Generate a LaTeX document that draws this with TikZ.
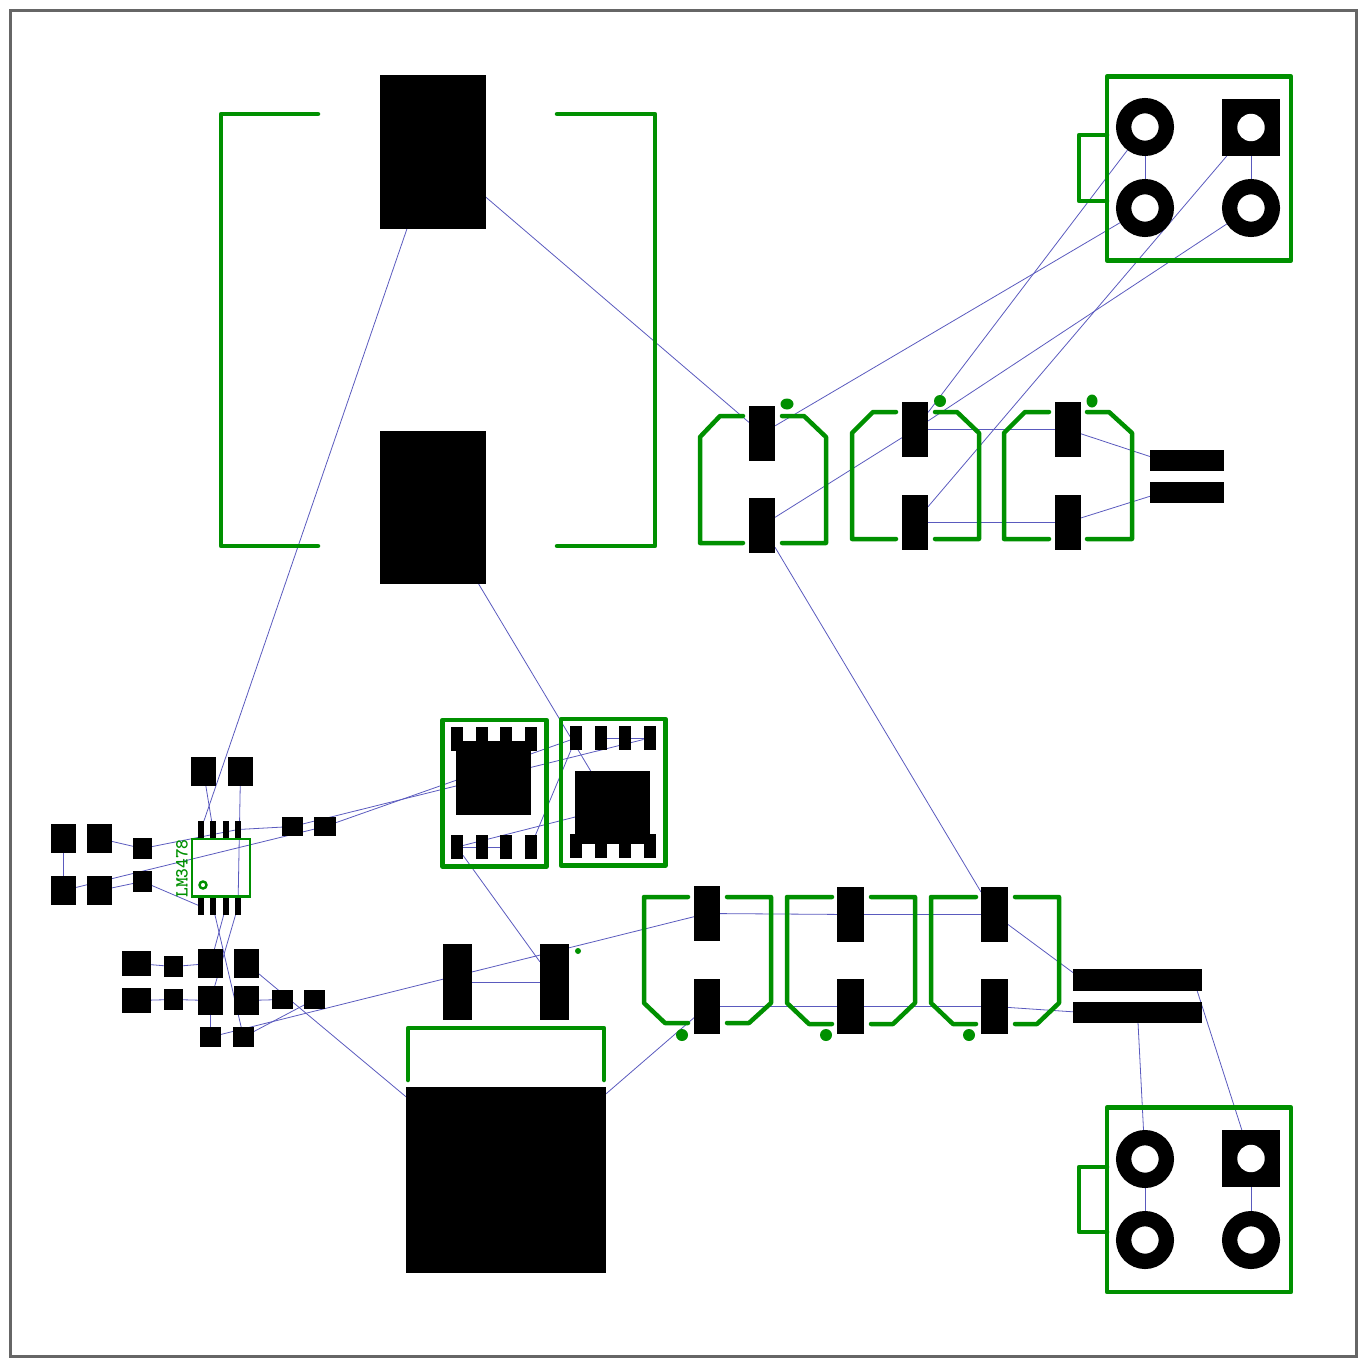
\documentclass[tikz,border=0pt]{standalone}
\usetikzlibrary{backgrounds}

\definecolor{silkgreen}{RGB}{0,144,0}
\definecolor{wireblue}{RGB}{90,90,190}
\definecolor{framegray}{RGB}{102,102,102}

\tikzset{
  silk/.style={draw=silkgreen, line width=4.5pt, line cap=round, line join=round},
  wire/.style={draw=wireblue, line width=0.8pt},
  padbox/.style={fill=black, inner sep=0pt, outer sep=0pt},
  bigpad/.style={padbox, minimum width=106pt, minimum height=153pt},
  cappad/.style={padbox, minimum width=26pt, minimum height=55pt},
  tallpad/.style={padbox, minimum width=29pt, minimum height=76pt},
  barpad/.style={padbox, minimum width=74pt, minimum height=21pt},
  longbar/.style={padbox, minimum width=129pt, minimum height=22pt},
  sopin/.style={padbox, minimum width=12pt, minimum height=24pt},
  sobody/.style={padbox, minimum width=75pt, minimum height=74pt},
  icpin/.style={padbox, minimum width=6pt, minimum height=17pt},
  vpad/.style={padbox, minimum width=25pt, minimum height=29pt},
  hpad/.style={padbox, minimum width=29pt, minimum height=25pt},
  vsmall/.style={padbox, minimum width=19pt, minimum height=21pt},
  hsmall/.style={padbox, minimum width=21pt, minimum height=19pt},
  ringpad/.style={circle, draw=black, line width=15.3pt, fill=white, inner sep=0pt, outer sep=0pt, minimum size=42.7pt},
  squarepad/.style={padbox, minimum width=58pt, minimum height=57pt},
  drillhole/.style={circle, fill=white, inner sep=0pt, outer sep=0pt, minimum size=27.4pt},
}

\begin{document}
\begin{tikzpicture}[x=1pt,y=-1pt]

\useasboundingbox (0,0) rectangle (1366,1366);
\node[draw=framegray, line width=3pt, inner sep=0pt, outer sep=0pt, minimum width=1345.5pt, minimum height=1345.5pt] (frame) at (683.25,683.25) {};

% power parts
\node[bigpad, minimum height=154pt] (mosTop) at (433,152) {};
\node[bigpad] (mosBot) at (433,507.5) {};
\node[padbox, minimum width=200pt, minimum height=186pt] (inductor) at (506,1180) {};
\node[tallpad] (diodeL) at (457.5,982) {};
\node[tallpad] (diodeR) at (554.5,982) {};

% connectors
\node[ringpad] (conTopA) at (1145,127) {};
\node[ringpad] (conTopB) at (1145,208) {};
\node[squarepad] (conTopC) at (1251,127.5) {};
\node[drillhole] (holeTopC) at (1251,127.5) {};
\node[ringpad] (conTopD) at (1251,208) {};
\node[ringpad] (conBotA) at (1145,1159) {};
\node[ringpad] (conBotB) at (1145,1240) {};
\node[squarepad] (conBotC) at (1251,1158.5) {};
\node[drillhole] (holeBotC) at (1251,1158.5) {};
\node[ringpad] (conBotD) at (1251,1240) {};

% upper capacitor row
\node[cappad] (capAtop) at (762,433.5) {};
\node[cappad] (capAbot) at (762,525.5) {};
\node[cappad] (capBtop) at (915,429.5) {};
\node[cappad] (capBbot) at (915,522) {};
\node[cappad] (capCtop) at (1068,429.5) {};
\node[cappad] (capCbot) at (1068,522) {};
\node[barpad] (barUp) at (1187,460.5) {};
\node[barpad] (barDown) at (1187,492.5) {};
\coordinate (barUpEnd) at (1162,460.5);
\coordinate (barDownEnd) at (1162,492.5);

% lower capacitor row
\node[cappad] (capDtop) at (707,913.5) {};
\node[cappad] (capDbot) at (707,1006.5) {};
\node[cappad, minimum width=27pt] (capEtop) at (850.5,914.5) {};
\node[cappad, minimum width=27pt] (capEbot) at (850.5,1006.5) {};
\node[cappad, minimum width=27pt] (capFtop) at (994.5,914.5) {};
\node[cappad, minimum width=27pt] (capFbot) at (994.5,1006.5) {};
\node[longbar] (longUp) at (1137.5,980) {};
\node[longbar, minimum height=21pt] (longDown) at (1137.5,1012.5) {};
\coordinate (longUpL) at (1083,980);
\coordinate (longUpR) at (1193.7,980);
\coordinate (longDownL) at (1083,1012.5);

% left SO8 package
\node[sopin] (soAt1) at (457,739) {};
\node[sopin] (soAt2) at (481.5,739) {};
\node[sopin] (soAt3) at (506,739) {};
\node[sopin] (soAt4) at (530.5,739) {};
\node[sobody] (soAbody) at (493.5,778) {};
\node[sopin] (soAb1) at (457,847) {};
\node[sopin] (soAb2) at (481.5,847) {};
\node[sopin] (soAb3) at (506,847) {};
\node[sopin] (soAb4) at (530.5,847) {};

% right SO8 package
\node[sopin] (soBt1) at (576,738) {};
\node[sopin] (soBt2) at (600.5,738) {};
\node[sopin] (soBt3) at (625,738) {};
\node[sopin] (soBt4) at (649.5,738) {};
\node[sobody, minimum height=73pt] (soBbody) at (612.5,807.5) {};
\node[sopin] (soBb1) at (576,846) {};
\node[sopin] (soBb2) at (600.5,846) {};
\node[sopin] (soBb3) at (625,846) {};
\node[sopin] (soBb4) at (649.5,846) {};

% controller
\node[icpin] (icT1) at (201,829.5) {};
\node[icpin] (icT2) at (213,829.5) {};
\node[icpin] (icT3) at (226,829.5) {};
\node[icpin] (icT4) at (238,829.5) {};
\node[icpin] (icB1) at (201,906.5) {};
\node[icpin] (icB2) at (213,906.5) {};
\node[icpin] (icB3) at (226,906.5) {};
\node[icpin] (icB4) at (238,906.5) {};
\node[inner sep=0pt, rotate=90, text=silkgreen, font=\ttfamily\bfseries\fontsize{18.5}{18.5}\selectfont] (icName) at (182,868.5) {LM3478};

% small parts round the controller
\node[vpad] (rA) at (203.5,771.5) {};
\node[vpad] (rB) at (240.5,771.5) {};
\node[vpad] (rC) at (63.5,838.5) {};
\node[vpad] (rD) at (99.5,838.5) {};
\node[vpad] (rE) at (63.5,890.5) {};
\node[vpad] (rF) at (99.5,890.5) {};
\node[vsmall] (rG) at (142.5,848.5) {};
\node[vsmall] (rH) at (142.5,881.5) {};
\node[hsmall] (rI) at (292.5,826.5) {};
\node[hsmall, minimum width=22pt] (rJ) at (325,826.5) {};
\node[hpad] (rK) at (136.5,963.5) {};
\node[hpad] (rL) at (136.5,1000.5) {};
\node[vsmall] (rM) at (173.5,966.5) {};
\node[vsmall] (rN) at (173.5,999.5) {};
\node[vpad] (rO) at (210.5,963.5) {};
\node[vpad] (rP) at (246.5,963.5) {};
\node[vpad] (rQ) at (210.5,1000.5) {};
\node[vpad] (rR) at (246.5,1000.5) {};
\node[hsmall] (rS) at (282.5,999.5) {};
\node[hsmall] (rT) at (314.5,999.5) {};
\node[hsmall, minimum height=20pt] (rU) at (210.5,1037) {};
\node[hsmall, minimum height=20pt] (rV) at (243.5,1037) {};

% outlines
\draw[silk] (318,114) -- (221,114) -- (221,546) -- (318,546);
\draw[silk] (557,114) -- (655,114) -- (655,546) -- (557,546);
\draw[silk] (408,1080) -- (408,1028) -- (604,1028) -- (604,1080);
\draw[silk] (1107,76.5) rectangle (1291,260.5);
\draw[silk] (1107,135) -- (1079,135) -- (1079,201) -- (1107,201);
\draw[silk] (1107,1107.5) rectangle (1291,1292);
\draw[silk] (1107,1167) -- (1079,1167) -- (1079,1232) -- (1107,1232);
\draw[silk] (442.5,720) rectangle (546.5,866.5);
\draw[silk] (561,719) rectangle (665.5,865.5);
\draw[silkgreen, line width=2.4pt] (192,839) rectangle (250,896.5);
\draw[silkgreen, line width=2.4pt] (203,885) circle (3.5pt);

\draw[silk] (743,416) -- (720,416) -- (700,437) -- (700,543) -- (743,543);
\draw[silk] (782,416) -- (804,416) -- (826,437) -- (826,543) -- (782,543);
\draw[silk] (896,412) -- (873,412) -- (852,433) -- (852,539) -- (896,539);
\draw[silk] (935,412) -- (957,412) -- (979,433) -- (979,539) -- (935,539);
\draw[silk] (1049,412) -- (1025,412) -- (1004,433) -- (1004,539) -- (1049,539);
\draw[silk] (1087,412) -- (1109,412) -- (1132,433) -- (1132,539) -- (1087,539);
\fill[silkgreen] (787,404) ellipse (6.5pt and 5.5pt);
\fill[silkgreen] (940,401) circle (6pt);
\fill[silkgreen] (1092,401) ellipse (5.5pt and 6.5pt);

\draw[silk] (688,897) -- (644,897) -- (644,1003) -- (665,1023) -- (688,1023);
\draw[silk] (727,897) -- (771,897) -- (771,1003) -- (749,1023) -- (727,1023);
\draw[silk] (832,897) -- (787,897) -- (787,1003) -- (809,1024) -- (832,1024);
\draw[silk] (871,897) -- (915,897) -- (915,1003) -- (893,1024) -- (871,1024);
\draw[silk] (976,897) -- (931,897) -- (931,1003) -- (953,1024) -- (976,1024);
\draw[silk] (1015,897) -- (1059,897) -- (1059,1003) -- (1037,1024) -- (1015,1024);
\fill[silkgreen] (682,1035) circle (6pt);
\fill[silkgreen] (826,1035) circle (6pt);
\fill[silkgreen] (969,1035) circle (6pt);
\fill[silkgreen] (578,951) circle (3pt);

% airwires
\begin{scope}[on background layer]
\draw[wire] (mosTop) -- (icT1);
\draw[wire] (mosTop) -- (capAtop);
\draw[wire] (mosBot) -- (soBbody);
\draw[wire] (soAb1) -- (diodeR);
\draw[wire] (diodeL) -- (diodeR);
\draw[wire] (rU) -- (capDtop);
\draw[wire] (rV) -- (rT);
\draw[wire] (rP) -- (inductor);
\draw[wire] (inductor) -- (capDbot);
\draw[wire] (soBt1) -- (rJ);
\draw[wire] (soBt4) -- (rI);
\draw[wire] (rE) -- (rJ);
\draw[wire] (rI) -- (icT4);
\draw[wire] (rG) -- (icT4);
\draw[wire] (rD) -- (rG);
\draw[wire] (rC) -- (rE);
\draw[wire] (rF) -- (rH);
\draw[wire] (rH) -- (icB1);
\draw[wire] (rA) -- (icT2);
\draw[wire] (rB) -- (icB4);
\draw[wire] (icB2) -- (rV);
\draw[wire] (icB3) -- (rO);
\draw[wire] (icB4) -- (rQ);
\draw[wire] (rQ) -- (rU);
\draw[wire] (rR) -- (rS);
\draw[wire] (rK) -- (rM);
\draw[wire] (rM) -- (rO);
\draw[wire] (rL) -- (rN);
\draw[wire] (rN) -- (rQ);
\draw[wire] (soAb1) -- (soBbody);
\draw[wire] (soAb1) -- (soAb3);
\draw[wire] (soAb4) -- (soBt1);
\draw[wire] (soBt2) -- (soBt4);
\draw[wire] (capAtop) -- (conTopB);
\draw[wire] (capAbot) -- (capBtop);
\draw[wire] (capBtop) -- (conTopD);
\draw[wire] (capBtop) -- (conTopA);
\draw[wire] (capBbot) -- (conTopC);
\draw[wire] (capBtop) -- (capCtop);
\draw[wire] (capBbot) -- (capCbot);
\draw[wire] (capCtop) -- (barUpEnd);
\draw[wire] (capCbot) -- (barDownEnd);
\draw[wire] (capAbot) -- (capFtop);
\draw[wire] (capDtop) -- (capEtop);
\draw[wire] (capEtop) -- (capFtop);
\draw[wire] (capDbot) -- (capEbot);
\draw[wire] (capEbot) -- (capFbot);
\draw[wire] (capFtop) -- (longUpL);
\draw[wire] (capFbot) -- (longDownL);
\draw[wire] (longDown) -- (conBotA);
\draw[wire] (longUpR) -- (conBotC);
\draw[wire] (conTopA) -- (conTopB);
\draw[wire] (conTopC) -- (conTopD);
\draw[wire] (conBotA) -- (conBotB);
\draw[wire] (conBotC) -- (conBotD);
\end{scope}

\end{tikzpicture}
\end{document}
